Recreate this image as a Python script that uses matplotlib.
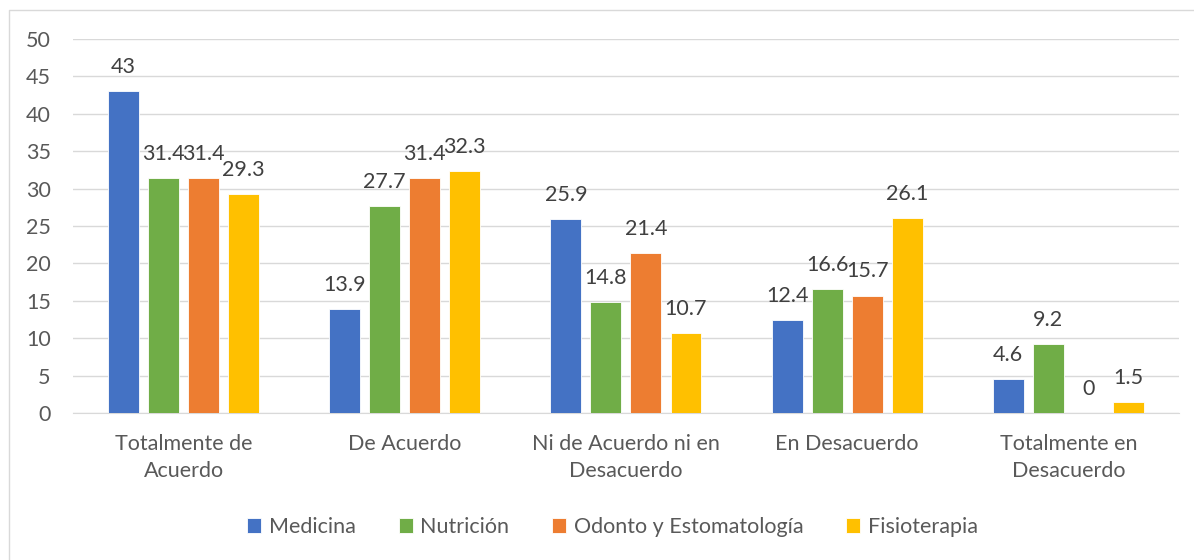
import matplotlib.pyplot as plt
import numpy as np
from matplotlib.lines import Line2D

# categories and series
categories = ["Totalmente de\nAcuerdo", "De Acuerdo", "Ni de Acuerdo ni en\nDesacuerdo",
              "En Desacuerdo", "Totalmente en\nDesacuerdo"]
series_names = ["Medicina", "Nutrición", "Odonto y Estomatología", "Fisioterapia"]
medicina = [43, 13.9, 25.9, 12.4, 4.6]
nutricion = [31.4, 27.7, 14.8, 16.6, 9.2]
odonto = [31.4, 31.4, 21.4, 15.7, 0]
fisioterapia = [29.3, 32.3, 10.7, 26.1, 1.5]

colors = ["#4472C4", "#70AD47", "#ED7D31", "#FFC000"]

plt.rcParams['font.family'] = ['Lato', 'DejaVu Sans']

fig = plt.figure(figsize=(11.94, 5.6), dpi=100)
ax = fig.add_axes([0.0611, 0.2625, 0.9263, 0.668])

# chart border (top and left edges visible)
fig.lines.append(Line2D([9 / 1194, 9 / 1194, 1.0], [0.0, 1 - 10 / 560, 1 - 10 / 560],
                        transform=fig.transFigure, color="#D9D9D9", linewidth=1))

x = np.arange(len(categories))
width = 0.14
step = 0.181
all_series = [medicina, nutricion, odonto, fisioterapia]
for i, (vals, name, c) in enumerate(zip(all_series, series_names, colors)):
    pos = x + (i - 1.5) * step
    bars = ax.bar(pos, vals, width, color=c, label=name, zorder=3,
                  edgecolor="white", linewidth=0.6)
    for b, v in zip(bars, vals):
        ax.annotate(f"{v:g}", (b.get_x() + b.get_width() / 2, v), xytext=(0, 13),
                    textcoords="offset points", ha="center", va="baseline",
                    fontsize=15.5, color="#404040")

ax.set_xlim(-0.5, len(categories) - 0.5)
ax.set_ylim(0, 50)
ax.set_yticks(range(0, 51, 5))
ax.grid(axis="y", color="#D9D9D9", linewidth=1, zorder=0)
for s in ["top", "right", "left"]:
    ax.spines[s].set_visible(False)
ax.spines["bottom"].set_color("#D9D9D9")
ax.set_xticks(x)
ax.set_xticklabels(categories, fontsize=15.5, color="#595959", linespacing=1.42)
ax.tick_params(axis="y", labelsize=15.5, labelcolor="#595959", length=0, pad=16)
ax.tick_params(axis="x", length=0, pad=15)

fig.legend(loc="center", bbox_to_anchor=(0.513, 0.059), ncol=4, frameon=False, fontsize=15.5,
           handlelength=0.65, handleheight=0.65, columnspacing=2.0, handletextpad=0.35,
           labelcolor="#595959")

fig.savefig("out.png", dpi=100)
